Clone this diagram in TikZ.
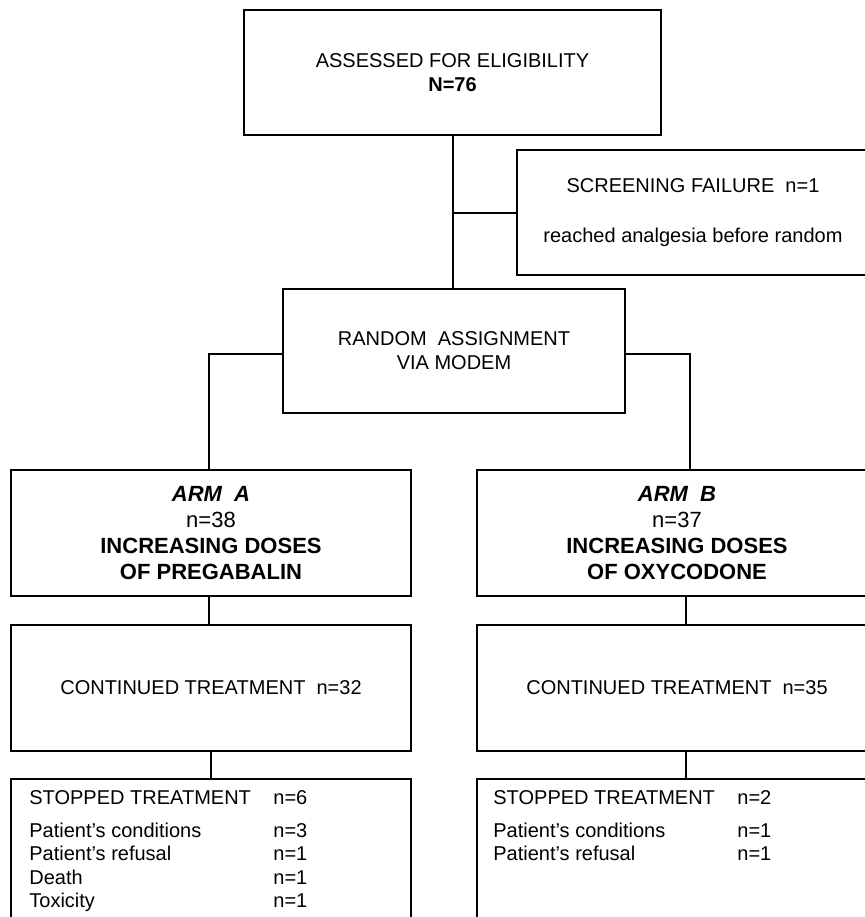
\documentclass[tikz,border=0pt]{standalone}
\usepackage{fontspec}
\setmainfont{Liberation Sans}
\usetikzlibrary{calc}
\begin{document}
\begin{tikzpicture}[x=0.5pt,y=-0.5pt,
  box/.style={draw=black,line width=1pt,inner sep=0pt,align=center,
    font=\fontsize{10}{12}\selectfont},
  armbox/.style={box,font=\fontsize{11}{13}\selectfont},
  txt/.style={inner sep=0pt,anchor=base west,font=\fontsize{10}{11.75}\selectfont},
  conn/.style={draw=black,line width=1pt}]
\useasboundingbox (0,0) rectangle (865,917);
\clip (0,0) rectangle (865,917);
% boxes
\node[box,minimum width=208.5pt,minimum height=62.5pt] (top) at (452.5,72.5)
  {ASSESSED FOR ELIGIBILITY\\\textbf{N=76}};
\node[box,minimum width=176pt,minimum height=62.5pt] (screen) at (693,212.5)
  {SCREENING FAILURE~~n=1\\[13pt]reached analgesia before random};
\node[box,minimum width=171pt,minimum height=62pt] (random) at (454,351)
  {RANDOM~~ASSIGNMENT\\VIA MODEM};
\node[armbox,minimum width=200pt,minimum height=63pt] (armA) at (211,533)
  {\textbf{\textit{ARM~~A}}\\n=38\\\textbf{INCREASING DOSES}\\\textbf{OF PREGABALIN}};
\node[armbox,minimum width=200pt,minimum height=63pt] (armB) at (677,533)
  {\textbf{\textit{ARM~~B}}\\n=37\\\textbf{INCREASING DOSES}\\\textbf{OF OXYCODONE}};
\node[box,minimum width=200pt,minimum height=63pt] (contA) at (211,688)
  {CONTINUED TREATMENT~~n=32};
\node[box,minimum width=200pt,minimum height=63pt] (contB) at (677,688)
  {CONTINUED TREATMENT~~n=35};
\node[box,minimum width=200pt,minimum height=75.5pt] (stopA) at (211,854.5) {};
\node[box,minimum width=200pt,minimum height=75.5pt] (stopB) at (677,854.5) {};
% texts of the stopped boxes
\node[txt] (stopAtxt) at (29,804) {\begin{tabular}[t]{@{}p{122pt}@{}l@{}}
STOPPED TREATMENT & n=6\\[4.75pt]
Patient’s conditions & n=3\\
Patient’s refusal & n=1\\
Death & n=1\\
Toxicity & n=1
\end{tabular}};
\node[txt] (stopBtxt) at (493,804) {\begin{tabular}[t]{@{}p{122pt}@{}l@{}}
STOPPED TREATMENT & n=2\\[4.75pt]
Patient’s conditions & n=1\\
Patient’s refusal & n=1
\end{tabular}};
% connectors
\draw[conn] (top.south) -- (top.south |- random.north);
\draw[conn] (screen.west) -- (screen.west -| top.south);
\draw[conn] ([yshift=-1.5pt]random.west) -| ([xshift=-1pt]armA.north);
\draw[conn] ([yshift=-1.5pt]random.east) -| ([xshift=6.5pt]armB.north);
\draw[conn] ([xshift=-1pt]armA.south) -- ([xshift=-1pt]contA.north);
\draw[conn] ([xshift=4.5pt]armB.south) -- ([xshift=4.5pt]contB.north);
\draw[conn] (contA.south) -- (stopA.north);
\draw[conn] ([xshift=4.5pt]contB.south) -- ([xshift=4.5pt]stopB.north);
\end{tikzpicture}
\end{document}
